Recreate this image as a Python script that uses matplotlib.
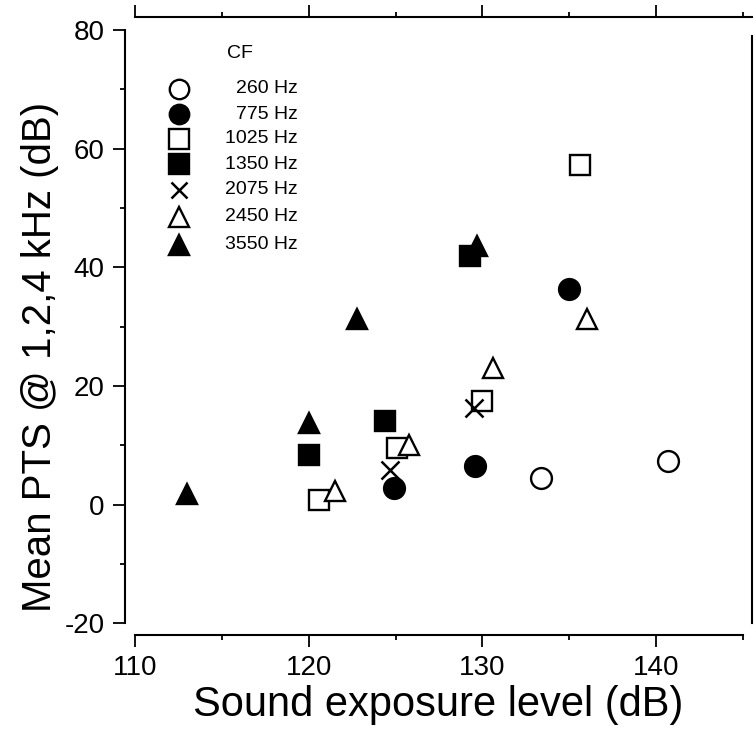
import matplotlib
matplotlib.use("Agg")
import matplotlib.pyplot as plt
from matplotlib.ticker import MultipleLocator

plt.rcParams['font.family'] = ['Liberation Sans', 'DejaVu Sans']
plt.rcParams['axes.unicode_minus'] = False

# CF groups, marker style and values
cfLabels = ['260 Hz', '775 Hz', '1025 Hz', '1350 Hz', '2075 Hz', '2450 Hz', '3550 Hz']
cfMarkers = ['o', 'o', 's', 's', 'x', '^', '^']
cfFilled = [False, True, False, True, False, False, True]

x260 = [133.4, 140.7]
y260 = [4.5, 7.4]
x775 = [124.9, 129.6, 135.0]
y775 = [2.8, 6.5, 36.4]
x1025 = [120.6, 125.1, 130.0, 135.6]
y1025 = [0.8, 9.6, 17.5, 57.2]
x1350 = [120.0, 124.4, 129.3]
y1350 = [8.4, 14.0, 41.9]
x2075 = [124.7, 129.5]
y2075 = [5.9, 16.3]
x2450 = [121.5, 125.8, 130.6, 136.0]
y2450 = [2.2, 10.1, 23.0, 31.2]
x3550 = [113.0, 120.0, 122.8, 129.7]
y3550 = [1.7, 13.8, 31.2, 43.6]

xValues = [x260, x775, x1025, x1350, x2075, x2450, x3550]
yValues = [y260, y775, y1025, y1350, y2075, y2450, y3550]


def markerStyle(marker, filled, size):
    style = dict(marker=marker, linestyle='none', markersize=size,
                 markeredgecolor='black', markeredgewidth=1.7)
    if marker == 'x':
        style['markeredgewidth'] = 1.8
        style['markersize'] = size * 0.85
    elif filled:
        style['markerfacecolor'] = 'black'
    else:
        style['markerfacecolor'] = 'white'
    return style


fig = plt.figure(figsize=(7.56, 7.36), dpi=100)
ax = fig.add_axes([125 / 756, 1 - 635 / 736, 627 / 756, 618 / 736])

for xs, ys, m, f in zip(xValues, yValues, cfMarkers, cfFilled):
    ax.plot(xs, ys, clip_on=False, **markerStyle(m, f, 15))

ax.set_xlim(109.42, 145.52)
ax.set_ylim(-22.0, 82.2)

ax.spines['left'].set_bounds(-20, 80)
ax.spines['right'].set_bounds(-20, 79)
ax.spines['bottom'].set_bounds(110, 145)
ax.spines['top'].set_bounds(110, 145.52)
for s in ax.spines.values():
    s.set_linewidth(1.5)

ax.xaxis.set_major_locator(MultipleLocator(10))
ax.xaxis.set_minor_locator(MultipleLocator(5))
ax.yaxis.set_major_locator(MultipleLocator(20))
ax.yaxis.set_minor_locator(MultipleLocator(10))
ax.tick_params(which='both', direction='out', width=1.3, top=True, right=False)
ax.tick_params(which='major', length=8.5, labelsize=20, pad=6)
ax.tick_params(which='minor', length=3.5)
ax.tick_params(axis='x', labeltop=False)

ax.set_xlabel('Sound exposure level (dB)', fontsize=30, labelpad=3)
ax.set_ylabel('Mean PTS @ 1,2,4 kHz (dB)', fontsize=29, labelpad=4)
ax.yaxis.label.set_y(0.45)

# legend drawn by hand so that the labels are right aligned like the scan
ax.text(0.1834, 0.9417, 'CF', transform=ax.transAxes, fontsize=14,
        ha='center', va='center')
rowY = [0.8835, 0.8430, 0.8026, 0.7621, 0.7201, 0.6764, 0.6311]
for yy, label, m, f in zip(rowY, cfLabels, cfMarkers, cfFilled):
    ax.plot([0.0861], [yy], transform=ax.transAxes, clip_on=False,
            **markerStyle(m, f, 14))
    ax.text(0.2759, yy, label, transform=ax.transAxes, fontsize=14,
            ha='right', va='center')

fig.savefig('out.png', dpi=100)
